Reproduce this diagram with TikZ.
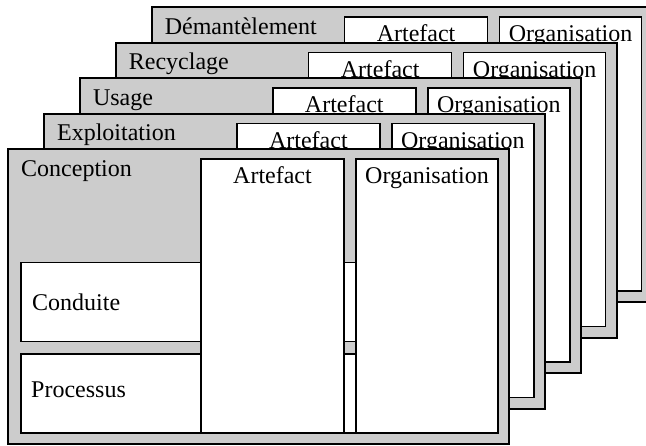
\documentclass[tikz,border=0pt]{standalone}
\usepackage{fontspec}
\setmainfont{Liberation Serif}
\definecolor{layergray}{RGB}{204,204,204}
\begin{document}
\begin{tikzpicture}[x=1pt,y=-1pt,
  layer/.style={fill=layergray,draw=black,line width=2.2pt},
  inbox/.style={fill=white,draw=black,line width=1.5pt},
  lbl/.style={inner sep=0pt,font=\fontsize{24}{28}\selectfont}]
\useasboundingbox (0,0) rectangle (646,446);
\clip (0,0) rectangle (646,446);
\foreach \i/\nm/\t in {4/dem/Démantèlement,3/rec/Recyclage,2/usa/Usage,1/exp/Exploitation,0/con/Conception}{
  \begin{scope}[shift={(8+35.9*\i,149.3-35.5*\i)}]
    \draw[layer] (0,0) rectangle (501,295);
    \draw[inbox] (13,113.4) rectangle (420,192.4);
    \draw[inbox] (13,204.7) rectangle (420,283.7);
    \draw[inbox] (193,9.7) rectangle (336,283.7);
    \draw[inbox] (348,9.7) rectangle (490,283.7);
    \node[lbl,anchor=base west] (\nm-title) at (13,27) {\t};
    \node[lbl,anchor=base] (\nm-art) at (264.5,34.3) {Artefact};
    \node[lbl,anchor=base] (\nm-org) at (419,34.3) {Organisation};
    \ifnum\i=0
      \node[lbl,anchor=base west] (\nm-cond) at (24,161.4) {Conduite};
      \node[lbl,anchor=base west] (\nm-proc) at (23,248.4) {Processus};
    \fi
  \end{scope}
}
\end{tikzpicture}
\end{document}
